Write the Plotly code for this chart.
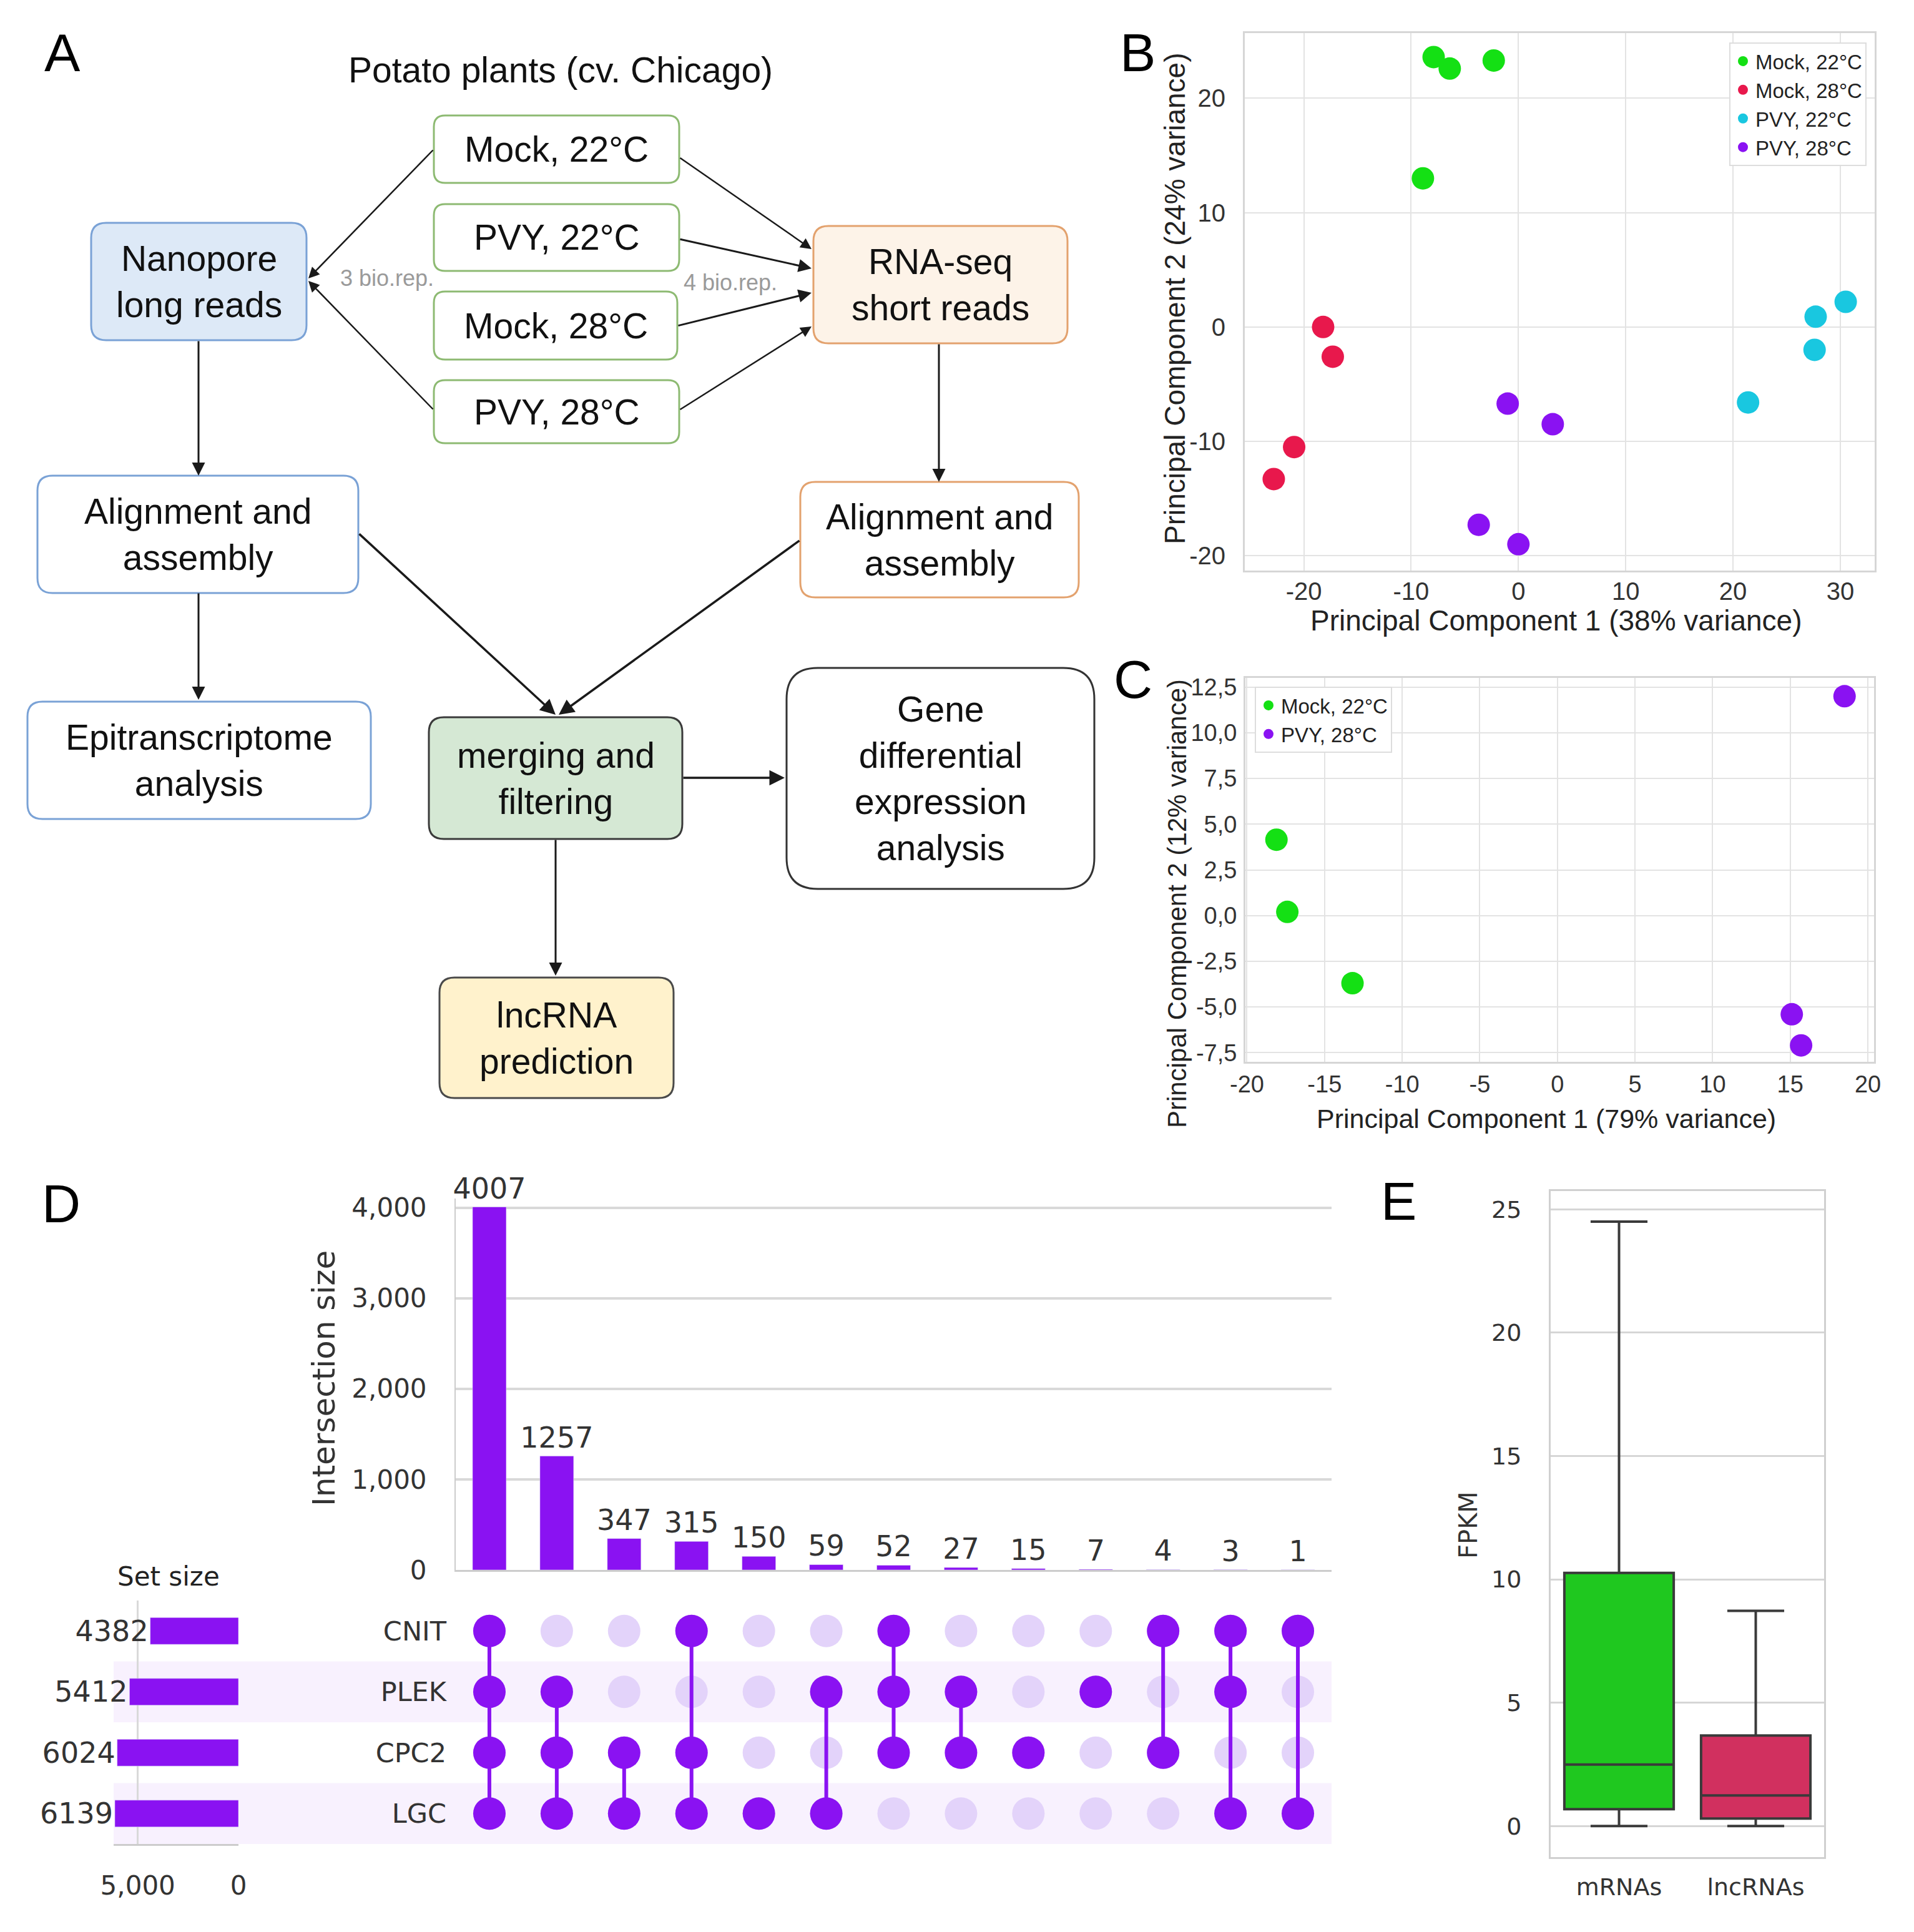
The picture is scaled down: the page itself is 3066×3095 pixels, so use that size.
import plotly.graph_objects as go

W, H = 3066, 3095

# ---------------- DATA ----------------
# Panel B (PCA, all samples)
b_mock22_pc1 = [-7.9, -6.4, -2.3, -8.9]
b_mock22_pc2 = [23.6, 22.6, 23.3, 13.0]
b_mock28_pc1 = [-18.2, -17.3, -20.9, -22.8]
b_mock28_pc2 = [0.0, -2.6, -10.5, -13.3]
b_pvy22_pc1 = [30.5, 27.7, 27.6, 21.4]
b_pvy22_pc2 = [2.2, 0.9, -2.0, -6.6]
b_pvy28_pc1 = [-1.0, 3.2, -3.7, 0.0]
b_pvy28_pc2 = [-6.7, -8.5, -17.3, -19.0]
b_groups = ["Mock, 22°C", "Mock, 28°C", "PVY, 22°C", "PVY, 28°C"]
b_colors = ["#14e014", "#e8184c", "#19c7e0", "#8a12f2"]
b_x_ticks = [-20, -10, 0, 10, 20, 30]
b_y_ticks = [-20, -10, 0, 10, 20]

# Panel C (PCA, Nanopore samples)
c_mock22_pc1 = [-18.1, -17.4, -13.2]
c_mock22_pc2 = [4.15, 0.2, -3.7]
c_pvy28_pc1 = [18.5, 15.1, 15.7]
c_pvy28_pc2 = [12.0, -5.4, -7.1]
c_x_ticks = [-20, -15, -10, -5, 0, 5, 10, 15, 20]
c_y_ticks = [-7.5, -5.0, -2.5, 0.0, 2.5, 5.0, 7.5, 10.0, 12.5]
c_y_ticktext = ["-7,5", "-5,0", "-2,5", "0,0", "2,5", "5,0", "7,5", "10,0", "12,5"]

# Panel D (UpSet)
sets = ["CNIT", "PLEK", "CPC2", "LGC"]
set_sizes = [4382, 5412, 6024, 6139]
intersection_sizes = [4007, 1257, 347, 315, 150, 59, 52, 27, 15, 7, 4, 3, 1]
memberships = [
    ["CNIT", "PLEK", "CPC2", "LGC"],
    ["PLEK", "CPC2", "LGC"],
    ["CPC2", "LGC"],
    ["CNIT", "CPC2", "LGC"],
    ["LGC"],
    ["PLEK", "LGC"],
    ["CNIT", "PLEK", "CPC2"],
    ["PLEK", "CPC2"],
    ["CPC2"],
    ["PLEK"],
    ["CNIT", "CPC2"],
    ["CNIT", "PLEK", "LGC"],
    ["CNIT", "LGC"],
]

# Panel E (FPKM box plot)
e_categories = ["mRNAs", "lncRNAs"]
e_lower = [0.0, 0.0]
e_q1 = [0.68, 0.30]
e_median = [2.49, 1.24]
e_q3 = [10.26, 3.67]
e_upper = [24.5, 8.72]
e_colors = ["#1fc81f", "#d1305f"]

PURPLE = "#8a12f2"
ARIAL = "Liberation Sans"
DEJAVU = "DejaVu Sans"


def xp(px):
    return px / W


def yp(py):
    return 1 - py / H


def hy(vals):
    return [str(v) for v in vals]


fig = go.Figure()

# ---------------- Panel B ----------------
b_x = [b_mock22_pc1, b_mock28_pc1, b_pvy22_pc1, b_pvy28_pc1]
b_y = [b_mock22_pc2, b_mock28_pc2, b_pvy22_pc2, b_pvy28_pc2]
for name, col, xs, ys in zip(b_groups, b_colors, b_x, b_y):
    fig.add_trace(go.Scatter(x=xs, y=ys, mode="markers", name=name,
                             marker=dict(size=36, color=col),
                             xaxis="x", yaxis="y", legend="legend"))

# ---------------- Panel C ----------------
fig.add_trace(go.Scatter(x=c_mock22_pc1, y=c_mock22_pc2, mode="markers", name="Mock, 22°C",
                         marker=dict(size=36, color=b_colors[0]),
                         xaxis="x2", yaxis="y2", legend="legend2"))
fig.add_trace(go.Scatter(x=c_pvy28_pc1, y=c_pvy28_pc2, mode="markers", name="PVY, 28°C",
                         marker=dict(size=36, color=b_colors[3]),
                         xaxis="x2", yaxis="y2", legend="legend2"))

# ---------------- Panel D ----------------
cols = list(range(len(intersection_sizes)))
fig.add_trace(go.Bar(x=cols, y=intersection_sizes, marker_color=PURPLE, width=0.5,
                     text=[str(v) for v in intersection_sizes], textposition="outside",
                     constraintext="none", cliponaxis=False,
                     textfont=dict(size=46, color="#333333", family=DEJAVU),
                     xaxis="x3", yaxis="y3", showlegend=False))

fig.add_trace(go.Bar(x=set_sizes, y=sets, orientation="h", marker_color=PURPLE, width=0.44,
                     text=[str(v) for v in set_sizes], textposition="outside",
                     constraintext="none", cliponaxis=False,
                     textfont=dict(size=46, color="#333333", family=DEJAVU),
                     xaxis="x5", yaxis="y4", showlegend=False))

bg_x = [c for c in cols for s in sets]
bg_y = [s for c in cols for s in sets]
fig.add_trace(go.Scatter(x=bg_x, y=bg_y, mode="markers",
                         marker=dict(size=52, color="#e3d3fa"),
                         xaxis="x4", yaxis="y4", showlegend=False))
for c, mem in zip(cols, memberships):
    if len(mem) > 1:
        idx = sorted(sets.index(m) for m in mem)
        fig.add_trace(go.Scatter(x=[c, c], y=[sets[idx[0]], sets[idx[-1]]], mode="lines",
                                 line=dict(color=PURPLE, width=6),
                                 xaxis="x4", yaxis="y4", showlegend=False))
act_x = [c for c, mem in zip(cols, memberships) for m in mem]
act_y = [m for c, mem in zip(cols, memberships) for m in mem]
fig.add_trace(go.Scatter(x=act_x, y=act_y, mode="markers",
                         marker=dict(size=52, color=PURPLE),
                         xaxis="x4", yaxis="y4", showlegend=False))

# ---------------- Panel E ----------------
for i, cat in enumerate(e_categories):
    fig.add_trace(go.Box(x=[cat], q1=[e_q1[i]], median=[e_median[i]], q3=[e_q3[i]],
                         lowerfence=[e_lower[i]], upperfence=[e_upper[i]],
                         fillcolor=e_colors[i], line=dict(color="#3a3a3a", width=4),
                         width=0.8, whiskerwidth=0.52, boxpoints=False,
                         xaxis="x6", yaxis="y6", showlegend=False))

# ---------------- Axes ----------------
grid_b = dict(showgrid=True, gridcolor="#e3e3e3", gridwidth=2, zeroline=False,
              showline=True, mirror=True, linecolor="#d6d6d6", linewidth=3,
              automargin=False)
tf_b = dict(family=ARIAL, size=40, color="#333333")
tf_c = dict(family=ARIAL, size=38, color="#333333")

layout = dict(
    width=W, height=H, autosize=False, margin=dict(l=0, r=0, t=0, b=0, pad=0),
    paper_bgcolor="white", plot_bgcolor="rgba(0,0,0,0)",
    font=dict(family=ARIAL, color="#222222"),
    xaxis=dict(domain=[xp(1994), xp(3003)], range=[-25.5, 33.2], anchor="y",
               tickvals=b_x_ticks, ticktext=hy(b_x_ticks), ticklabelstandoff=-4,
               tickfont=tf_b, **grid_b),
    yaxis=dict(domain=[yp(914), yp(53)], range=[-21.3, 25.7], anchor="x",
               tickvals=b_y_ticks, ticktext=hy(b_y_ticks), ticklabelstandoff=20,
               tickfont=tf_b, **grid_b),
    xaxis2=dict(domain=[xp(1995), xp(3002)], range=[-20.1, 20.4], anchor="y2",
                tickvals=c_x_ticks, ticktext=hy(c_x_ticks), ticklabelstandoff=0,
                tickfont=tf_c, **grid_b),
    yaxis2=dict(domain=[yp(1701), yp(1086)], range=[-8.0, 13.0], anchor="x2",
                tickvals=c_y_ticks, ticktext=c_y_ticktext, ticklabelstandoff=3,
                tickfont=tf_c, **grid_b),
    xaxis3=dict(domain=[xp(730), xp(2133)], range=[-0.5, 12.5], anchor="y3",
                showticklabels=False, showgrid=False, zeroline=False, automargin=False,
                showline=True, linecolor="#cccccc", linewidth=3),
    yaxis3=dict(domain=[yp(2515), yp(1920)], range=[0, 4100], anchor="x3",
                tickvals=[0, 1000, 2000, 3000, 4000], tickformat=",", automargin=False,
                showgrid=True, gridcolor="#d9d9d9", gridwidth=4, zeroline=False,
                showline=True, linecolor="#cccccc", linewidth=2, ticklabelstandoff=36,
                tickfont=dict(family=DEJAVU, size=42, color="#333333")),
    xaxis4=dict(domain=[xp(730), xp(2133)], range=[-0.5, 12.5], anchor="y4",
                visible=False, automargin=False),
    yaxis4=dict(domain=[yp(2954), yp(2564)], anchor="x4", type="category",
                categoryorder="array", categoryarray=sets, range=[3.5, -0.5],
                showgrid=False, zeroline=False, showline=False, ticklabelstandoff=14,
                automargin=False,
                tickfont=dict(family=DEJAVU, size=43, color="#333333")),
    xaxis5=dict(domain=[xp(182), xp(382)], range=[6200, 0], anchor="y4",
                tickvals=[5000, 0], ticktext=["5,000", "0"], automargin=False,
                showgrid=True, gridcolor="#d9d9d9", gridwidth=3, zeroline=False,
                showline=True, linecolor="#cccccc", linewidth=3, ticklabelstandoff=28,
                tickfont=dict(family=DEJAVU, size=42, color="#333333")),
    xaxis6=dict(domain=[xp(2484), xp(2922)], anchor="y6", type="category",
                categoryorder="array", categoryarray=e_categories, range=[-0.5, 1.5],
                showgrid=False, zeroline=False, showline=True, mirror=True,
                linecolor="#d0d0d0", linewidth=3, ticklabelstandoff=12, automargin=False,
                tickfont=dict(family=DEJAVU, size=38, color="#333333")),
    yaxis6=dict(domain=[yp(2975), yp(1908)], anchor="x6", range=[-1.26, 25.74],
                tickvals=[0, 5, 10, 15, 20, 25], showgrid=True, gridcolor="#d6d6d6",
                gridwidth=3, zeroline=False, showline=True, mirror=True, automargin=False,
                linecolor="#d0d0d0", linewidth=3, ticklabelstandoff=36,
                tickfont=dict(family=DEJAVU, size=38, color="#333333")),
    legend=dict(x=xp(2990), y=yp(68), xanchor="right", yanchor="top",
                bgcolor="white", bordercolor="#dddddd", borderwidth=2,
                font=dict(family=ARIAL, size=33, color="#222222"),
                itemwidth=30, tracegroupgap=0),
    legend2=dict(x=xp(2010), y=yp(1100), xanchor="left", yanchor="top",
                 bgcolor="white", bordercolor="#dddddd", borderwidth=2,
                 font=dict(family=ARIAL, size=33, color="#222222"),
                 itemwidth=30, tracegroupgap=0),
)
fig.update_layout(**layout)

shapes = []
annotations = []

# UpSet row shading
for i in range(1, len(sets), 2):
    shapes.append(dict(type="rect", xref="paper", yref="y4", x0=xp(182), x1=xp(2133),
                       y0=i - 0.5, y1=i + 0.5, fillcolor="#f8f1fe", line=dict(width=0),
                       layer="below"))


# ---------------- Panel A (flow diagram) ----------------
def rrect(x0, y0, x1, y1, r):
    def P(x, y):
        return f"{xp(x):.5f},{yp(y):.5f}"
    return (f"M {P(x0 + r, y0)} L {P(x1 - r, y0)} Q {P(x1, y0)} {P(x1, y0 + r)} "
            f"L {P(x1, y1 - r)} Q {P(x1, y1)} {P(x1 - r, y1)} L {P(x0 + r, y1)} "
            f"Q {P(x0, y1)} {P(x0, y1 - r)} L {P(x0, y0 + r)} Q {P(x0, y0)} {P(x0 + r, y0)} Z")


GREEN_B, BLUE_B, ORANGE_B, DARK_B = "#8dba72", "#7aa2d6", "#e3a26e", "#3a3a3a"
boxes = [
    (695, 185, 1088, 293, "white", GREEN_B, 18, "Mock, 22°C"),
    (695, 327, 1088, 434, "white", GREEN_B, 18, "PVY, 22°C"),
    (695, 467, 1085, 576, "white", GREEN_B, 18, "Mock, 28°C"),
    (695, 609, 1088, 710, "white", GREEN_B, 18, "PVY, 28°C"),
    (146, 357, 491, 545, "#dde9f7", BLUE_B, 24, "Nanopore<br>long reads"),
    (1303, 362, 1710, 550, "#fdf3e8", ORANGE_B, 24, "RNA-seq<br>short reads"),
    (60, 762, 574, 950, "white", BLUE_B, 24, "Alignment and<br>assembly"),
    (1282, 772, 1728, 957, "white", ORANGE_B, 24, "Alignment and<br>assembly"),
    (44, 1124, 594, 1312, "white", BLUE_B, 24, "Epitranscriptome<br>analysis"),
    (687, 1149, 1093, 1344, "#d5e8d4", DARK_B, 24, "merging and<br>filtering"),
    (1260, 1070, 1753, 1424, "white", "#333333", 50, "Gene<br>differential<br>expression<br>analysis"),
    (704, 1566, 1079, 1759, "#fff2cc", "#4a4a4a", 24, "lncRNA<br>prediction"),
]
for x0, y0, x1, y1, fill, lc, r, txt in boxes:
    shapes.append(dict(type="path", path=rrect(x0, y0, x1, y1, r), xref="paper", yref="paper",
                       fillcolor=fill, line=dict(color=lc, width=3), layer="below"))
    annotations.append(dict(x=xp((x0 + x1) / 2), y=yp((y0 + y1) / 2),
                            text=txt, font=dict(family=ARIAL, size=57, color="#111111")))

arrows = [
    (695, 239, 494, 446, 2.5), (695, 657, 494, 450, 2.5),
    (1088, 252, 1300, 399, 2.5), (1088, 383, 1300, 430, 3), (1085, 522, 1300, 469, 3),
    (1088, 657, 1300, 523, 2.5),
    (318, 545, 318, 762, 3), (1504, 550, 1504, 772, 3),
    (574, 854, 890, 1145, 3.5), (1282, 865, 895, 1145, 3.5),
    (318, 949, 318, 1121, 3), (1093, 1246, 1257, 1246, 3.5), (890, 1344, 890, 1563, 3),
]
for tx, ty, hx, hy_, w in arrows:
    annotations.append(dict(x=xp(hx), y=yp(hy_), ax=tx - hx, ay=ty - hy_,
                            axref="pixel", ayref="pixel",
                            text="", showarrow=True, arrowhead=2, arrowsize=1.4,
                            arrowwidth=w, arrowcolor="#1a1a1a", standoff=0, startstandoff=0))

annotations += [
    dict(x=xp(898), y=yp(112), text="Potato plants (cv. Chicago)",
         font=dict(family=ARIAL, size=57, color="#111111")),
    dict(x=xp(620), y=yp(446), text="3 bio.rep.", font=dict(family=ARIAL, size=36, color="#9a9a9a")),
    dict(x=xp(1170), y=yp(453), text="4 bio.rep.", font=dict(family=ARIAL, size=36, color="#9a9a9a")),
    # panel letters
    dict(x=xp(100), y=yp(84), text="A", font=dict(family=ARIAL, size=86, color="black")),
    dict(x=xp(1822), y=yp(84), text="B", font=dict(family=ARIAL, size=86, color="black")),
    dict(x=xp(1815), y=yp(1088), text="C", font=dict(family=ARIAL, size=86, color="black")),
    dict(x=xp(98), y=yp(1928), text="D", font=dict(family=ARIAL, size=86, color="black")),
    dict(x=xp(2240), y=yp(1924), text="E", font=dict(family=ARIAL, size=86, color="black")),
    # axis titles B / C
    dict(x=xp(2493), y=yp(994), text="Principal Component 1 (38% variance)",
         font=dict(family=ARIAL, size=46, color="#222222")),
    dict(x=xp(1882), y=yp(478), text="Principal Component 2 (24% variance)", textangle=-90,
         font=dict(family=ARIAL, size=46, color="#222222")),
    dict(x=xp(2477), y=yp(1792), text="Principal Component 1 (79% variance)",
         font=dict(family=ARIAL, size=43, color="#222222")),
    dict(x=xp(1886), y=yp(1448), text="Principal Component 2 (12% variance)", textangle=-90,
         font=dict(family=ARIAL, size=42, color="#222222")),
    # D titles
    dict(x=xp(519), y=yp(2208), text="Intersection size", textangle=-90,
         font=dict(family=DEJAVU, size=50, color="#333333")),
    dict(x=xp(270), y=yp(2525), text="Set size",
         font=dict(family=DEJAVU, size=42, color="#222222")),
    # E title
    dict(x=xp(2352), y=yp(2443), text="FPKM", textangle=-90,
         font=dict(family=DEJAVU, size=40, color="#333333")),
]
for a in annotations:
    a.setdefault("xref", "paper")
    a.setdefault("yref", "paper")
    a.setdefault("showarrow", False)
    if not a["showarrow"]:
        a.setdefault("xanchor", "center")
        a.setdefault("yanchor", "middle")

fig.update_layout(shapes=shapes, annotations=annotations)

fig.write_html("out.html", config={"displayModeBar": False},
               post_script="document.body.style.margin='0px';")
